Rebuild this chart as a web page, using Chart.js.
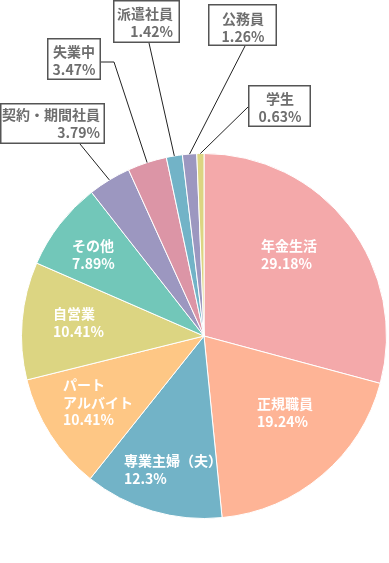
<!DOCTYPE html>
<html lang="ja">
<head>
<meta charset="utf-8">
<script src="https://cdn.jsdelivr.net/npm/chart.js@4/dist/chart.umd.min.js"></script>
<style>
  html, body { margin: 0; padding: 0; background: #fff; }
  #wrap { width: 389px; height: 563px; }
</style>
</head>
<body>
<div id="wrap"><canvas id="jobChart" width="389" height="563"></canvas></div>
<script>
// カテゴリと割合
const categories = ['年金生活', '正規職員', '専業主婦（夫）', 'パート\nアルバイト', '自営業', 'その他',
    '契約・期間社員', '失業中', '派遣社員', '公務員', '学生'];
const shares = [29.18, 19.24, 12.3, 10.41, 10.41, 7.89, 3.79, 3.47, 1.42, 1.26, 0.63];
const sliceColors = ['#f4a9aa', '#feb496', '#72b3c7', '#fec785', '#dcd582', '#72c7b9',
    '#9c97c0', '#dc95a6', '#72b3c7', '#9c97c0', '#dcd582'];

// ラベル配置 (内側: 左寄せ / 外側: 枠付き)
const labelLayout = [
    { inside: true, x: 261, y: 246 },
    { inside: true, x: 257, y: 404 },
    { inside: true, x: 124, y: 461 },
    { inside: true, x: 63, y: 385 },
    { inside: true, x: 53, y: 314 },
    { inside: true, x: 72, y: 246 },
    { box: [0, 103, 105, 41], align: 'right', tx: 100, y: 115, from: [[80, 144]] },
    { box: [47, 38, 54, 42], align: 'center', tx: 74, y: 52, from: [[101, 62], [114, 62]] },
    { box: [113, 0, 67, 43], align: 'right', tx: 173, y: 14, from: [[149, 43]] },
    { box: [208, 4, 69, 42], align: 'center', tx: 243, y: 19, from: [[245, 46]] },
    { box: [248, 85, 63, 42], align: 'center', tx: 280, y: 99, from: [[248, 107]] }
];

const FONT = 'bold 14px "Noto Sans CJK JP", "Noto Sans", sans-serif';
const LINE_H = 17.5;

const labelPlugin = {
    id: 'pieLabels',
    afterDatasetsDraw(chart) {
        const ctx = chart.ctx;
        const meta = chart.getDatasetMeta(0);
        ctx.save();
        ctx.font = FONT;
        ctx.textBaseline = 'middle';
        meta.data.forEach((arc, i) => {
            const lay = labelLayout[i];
            const lines = categories[i].split('\n').concat([shares[i] + '%']);
            if (lay.inside) {
                ctx.fillStyle = '#ffffff';
                ctx.textAlign = 'left';
                lines.forEach((t, k) => ctx.fillText(t, lay.x, lay.y + k * LINE_H));
                return;
            }
            // 引き出し線: 扇形の外周中央まで
            const mid = (arc.startAngle + arc.endAngle) / 2;
            const ex = arc.x + Math.cos(mid) * arc.outerRadius;
            const ey = arc.y + Math.sin(mid) * arc.outerRadius;
            ctx.strokeStyle = '#222';
            ctx.lineWidth = 1;
            ctx.beginPath();
            ctx.moveTo(lay.from[0][0], lay.from[0][1]);
            lay.from.slice(1).forEach(p => ctx.lineTo(p[0], p[1]));
            ctx.lineTo(ex, ey);
            ctx.stroke();

            const [bx, by, bw, bh] = lay.box;
            ctx.fillStyle = '#ffffff';
            ctx.fillRect(bx, by, bw, bh);
            ctx.strokeStyle = '#555';
            ctx.lineWidth = 1.5;
            ctx.strokeRect(bx + 0.75, by + 0.75, bw - 1.5, bh - 1.5);

            ctx.fillStyle = '#6e6e6e';
            ctx.textAlign = lay.align;
            lines.forEach((t, k) => ctx.fillText(t, lay.tx, lay.y + k * LINE_H));
        });
        ctx.restore();
    }
};

new Chart(document.getElementById('jobChart').getContext('2d'), {
    type: 'pie',
    data: {
        labels: categories,
        datasets: [{
            data: shares,
            backgroundColor: sliceColors,
            borderColor: '#ffffff',
            borderWidth: 1
        }]
    },
    options: {
        responsive: false,
        animation: false,
        layout: { padding: { left: 21, right: 2, top: 153, bottom: 44 } },
        plugins: {
            legend: { display: false },
            tooltip: { enabled: false }
        }
    },
    plugins: [labelPlugin]
});
</script>
</body>
</html>
